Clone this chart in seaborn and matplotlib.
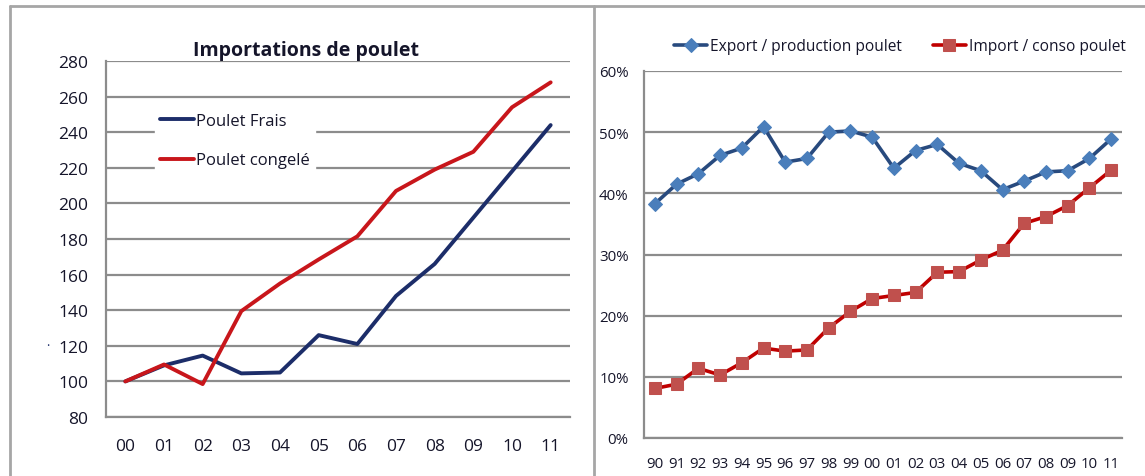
import matplotlib
matplotlib.use("Agg")
import matplotlib.pyplot as plt
import seaborn as sns
import pandas as pd
from matplotlib.ticker import PercentFormatter, FixedLocator
from matplotlib.lines import Line2D

# left chart: import indices (base 100 in 2000)
years_left = ["00", "01", "02", "03", "04", "05", "06", "07", "08", "09", "10", "11"]
poulet_frais = [100, 109, 114.5, 104.5, 105, 126, 121, 148, 166, 192, 218, 244]
poulet_congele = [100, 109.5, 98.5, 139.5, 155, 168.5, 181.5, 207, 219, 229, 254, 268]

# right chart: ratios in %
years_right = ["90", "91", "92", "93", "94", "95", "96", "97", "98", "99", "00",
               "01", "02", "03", "04", "05", "06", "07", "08", "09", "10", "11"]
export_prod = [38.3, 41.5, 43.2, 46.2, 47.4, 50.9, 45.1, 45.7, 50.0, 50.2, 49.2,
               44.1, 47.0, 48.0, 44.9, 43.7, 40.6, 42.0, 43.5, 43.7, 45.7, 48.9]
import_conso = [8.1, 8.8, 11.4, 10.3, 12.3, 14.7, 14.2, 14.4, 18.0, 20.7, 22.8,
                23.3, 23.8, 27.1, 27.2, 29.1, 30.7, 35.1, 36.2, 38.0, 40.9, 43.8]

sns.set_style("white")
plt.rcParams['font.family'] = ['Open Sans', 'DejaVu Sans']

W, H = 1145, 477
fig = plt.figure(figsize=(W / 100, H / 100), dpi=100)
txt = "#15152a"
grid_c = "#8c8c8c"

def fx(px):
    return px / W

def fy(py):
    return 1 - py / H

# panel frames
for line in [([10, 1145], [7, 7]), ([10, 10], [7, 477]), ([593.5, 593.5], [7, 477])]:
    fig.add_artist(Line2D([fx(v) for v in line[0]], [fy(v) for v in line[1]],
                          color="#a6a6a6", lw=2))

# ---- left chart
ax1 = fig.add_axes([fx(106), fy(418), fx(570) - fx(106), fy(62) - fy(418)])
df1 = pd.DataFrame({"pos": range(len(years_left)), "frais": poulet_frais, "congele": poulet_congele})
sns.lineplot(data=df1, x="pos", y="frais", ax=ax1, color="#1c2d69", lw=2.8, label="Poulet Frais")
sns.lineplot(data=df1, x="pos", y="congele", ax=ax1, color="#c8161b", lw=2.8, label="Poulet congelé")
ax1.set_xlim(-0.5, len(years_left) - 0.5)
ax1.set_ylim(80, 280)
ax1.set_yticks(range(80, 281, 20))
ax1.set_xticks(range(len(years_left)))
ax1.set_xticklabels(years_left)
ax1.set_xlabel("")
ax1.set_ylabel("")
ax1.grid(axis="y", color=grid_c, lw=1.6)
ax1.set_axisbelow(True)
for s in ["top", "right"]:
    ax1.spines[s].set_visible(False)
for s in ["left", "bottom"]:
    ax1.spines[s].set_color(grid_c)
    ax1.spines[s].set_linewidth(1.6)
ax1.tick_params(axis="y", length=0, pad=13, labelsize=12.5, labelcolor=txt)
ax1.tick_params(axis="x", length=0, pad=15, labelsize=12.5, labelcolor=txt)
fig.text(fx(306), fy(56), "Importations de poulet", fontsize=14, fontweight="bold",
         color=txt, ha="center", va="baseline")
leg1 = ax1.legend(loc="upper left", bbox_to_anchor=(fx(155), fy(109)), bbox_transform=fig.transFigure,
                  frameon=True, fancybox=False, framealpha=1, edgecolor="white", facecolor="white",
                  fontsize=12, handlelength=2.05, handletextpad=0.12, labelspacing=1.4,
                  borderpad=0.3, borderaxespad=0)
for t in leg1.get_texts():
    t.set_color(txt)
fig.text(fx(48), fy(343), ".", color="#1c2d69", fontsize=9, ha="center", va="center")

# ---- right chart
ax2 = fig.add_axes([fx(644), fy(439), fx(1122) - fx(644), fy(72) - fy(439)])
df2 = pd.DataFrame({"pos": range(len(years_right)), "export": export_prod, "import": import_conso})
sns.lineplot(data=df2, x="pos", y="export", ax=ax2, color="#284a7e", lw=2.6, marker="D",
             markersize=7, markerfacecolor="#4a7ebb", markeredgecolor="#4a7ebb",
             label="Export / production poulet")
sns.lineplot(data=df2, x="pos", y="import", ax=ax2, color="#c00000", lw=2.6, marker="s",
             markersize=8.5, markerfacecolor="#c0504d", markeredgecolor="#c0504d",
             label="Import / conso poulet")
ax2.set_xlim(-0.5, len(years_right) - 0.5)
ax2.set_ylim(0, 60)
ax2.set_yticks(range(0, 61, 10))
ax2.yaxis.set_major_formatter(PercentFormatter(100, decimals=0))
ax2.set_xticks(range(len(years_right)))
ax2.set_xticklabels(years_right)
ax2.xaxis.set_minor_locator(FixedLocator([i - 0.5 for i in range(len(years_right) + 1)]))
ax2.set_xlabel("")
ax2.set_ylabel("")
ax2.grid(axis="y", color=grid_c, lw=1.6)
ax2.set_axisbelow(True)
for s in ["top", "right"]:
    ax2.spines[s].set_visible(False)
for s in ["left", "bottom"]:
    ax2.spines[s].set_color(grid_c)
    ax2.spines[s].set_linewidth(1.6)
ax2.tick_params(axis="y", length=4, width=1.2, color=grid_c, pad=7, labelsize=10.8, labelcolor=txt)
ax2.tick_params(axis="x", which="major", length=0, pad=13, labelsize=10.8, labelcolor=txt)
ax2.tick_params(axis="x", which="minor", length=5, width=1.2, color=grid_c, direction="out")
leg2 = ax2.legend(loc="center", bbox_to_anchor=(fx(900), fy(47)), bbox_transform=fig.transFigure,
                  ncol=2, frameon=False, fontsize=11.2, handlelength=2.1, handletextpad=0.2,
                  columnspacing=2.0, borderaxespad=0)
for t in leg2.get_texts():
    t.set_color(txt)

fig.savefig("out.png", dpi=100, facecolor="white")
